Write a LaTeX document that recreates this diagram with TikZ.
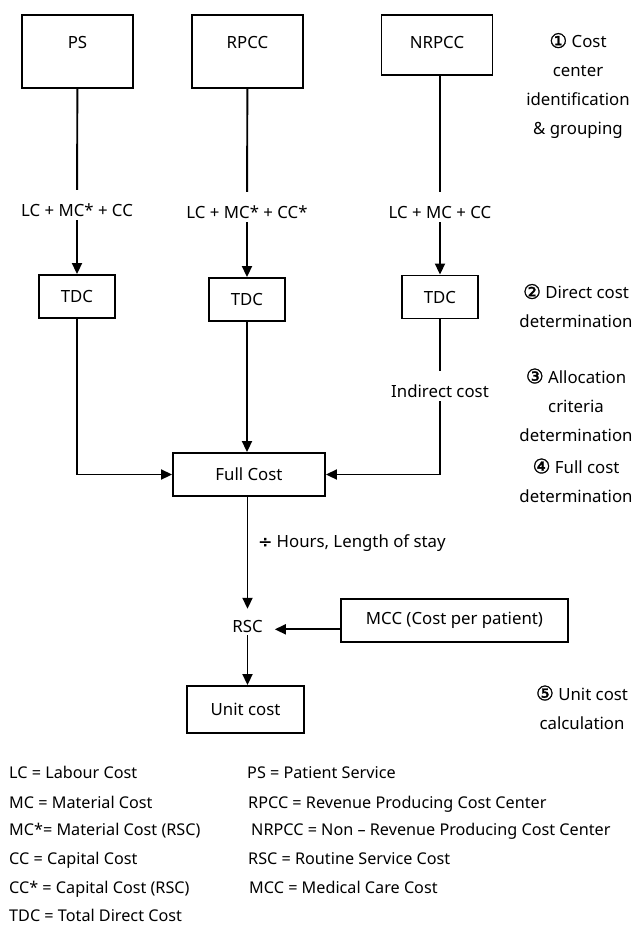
\documentclass[tikz,border=0pt]{standalone}
\usepackage{fontspec}
\setmainfont{Noto Sans}
\newfontfamily\symfont[FakeBold=1.5]{DejaVu Sans}
\newcommand\stepno[1]{{\symfont\fontsize{20}{29}\selectfont #1}}
\usetikzlibrary{arrows.meta}
\begin{document}
\begin{tikzpicture}[x=1pt,y=-1pt,
	font=\fontsize{16.8}{29}\selectfont,
	box/.style={draw=black,line width=1.9pt,inner sep=0pt},
	topbox/.style={box,minimum width=111pt,text height=33pt,text depth=40pt},
	tdcbox/.style={box,minimum width=76pt,minimum height=43pt},
	lbl/.style={anchor=base,inner sep=3pt,text height=23pt,text depth=1pt},
	note/.style={align=center,inner sep=0pt},
	key/.style={anchor=base west,inner sep=0pt,font=\fontsize{16.2}{18}\selectfont},
	ln/.style={line width=1.9pt},
	arr/.style={line width=1.9pt,-{Triangle[length=11pt,width=10pt]}}]
		\useasboundingbox (0,0) rectangle (635,926);
		
		% cost centers
		\node[topbox] (PS) at (77.5,51.5) {PS};
		\node[topbox] (RPCC) at (247.5,51.5) {RPCC};
		\node[topbox,text depth=27pt] (NRPCC) at (437,45) {NRPCC};
		
		\node[lbl] (L1) at (77,216) {LC + MC* + CC};
		\node[lbl] (L2) at (247,218) {LC + MC* + CC*};
		\node[lbl] (L3) at (440,218) {LC + MC + CC};
		
		\node[tdcbox] (T1) at (77,296.5) {TDC};
		\node[tdcbox] (T2) at (247,299.5) {TDC};
		\node[tdcbox] (T3) at (440,297) {TDC};
		
		\node[lbl] (IC) at (440,397) {Indirect cost};
		\node[box,minimum width=152pt,minimum height=43pt] (FC) at (249,474.5) {Full Cost};
		\node[anchor=west,inner sep=0pt] (DIV) at (258,543) {{\symfont ÷} Hours, Length of stay};
		\node[anchor=base,inner xsep=12pt,inner ysep=3pt,text height=20pt,text depth=0pt] (RSC) at (247.5,632) {RSC};
		\node[box,minimum width=227pt,minimum height=43pt] (MCC) at (454.5,620.5) {MCC (Cost per patient)};
		\node[box,minimum width=117pt,minimum height=47pt] (UC) at (245.5,709.5) {Unit cost};
		
		\draw[ln] (L3 |- NRPCC.south) -- (L3);
		\draw[ln] (PS) -- (L1);
		\draw[ln] (RPCC) -- (L2);
		\draw[arr] (L1) -- (T1);
		\draw[arr] (L2) -- (T2);
		\draw[arr] (L3) -- (T3);
		\draw[arr] (T1) |- (FC);
		\draw[arr] (T2) -- (T2 |- FC.north);
		\draw[ln] (T3) -- (IC);
		\draw[arr] (IC) |- (FC);
		\draw[arr] (RSC |- FC.south) -- (RSC);
		\draw[arr] (MCC.west |- RSC.mid east) -- (RSC.mid east);
		\draw[arr] (RSC) -- (RSC |- UC.north);
		
		% steps
		\node[note] (S1) at (578,86) {\stepno{①} Cost\\center\\identification\\\& grouping};
		\node[note] (S2) at (576,306) {\stepno{②} Direct cost\\determination};
		\node[note] (S3) at (576,405) {\stepno{③} Allocation\\criteria\\determination};
		\node[note] (S4) at (576,480.5) {\stepno{④} Full cost\\determination};
		\node[note] (S5) at (582,707.5) {\stepno{⑤} Unit cost\\calculation};
		
		% abbreviations
		\node[key] (K1) at (9,778) {LC = Labour Cost};
		\node[key] (K2) at (9,808) {MC = Material Cost};
		\node[key] (K3) at (9,835) {MC*= Material Cost (RSC)};
		\node[key] (K4) at (9,864) {CC = Capital Cost};
		\node[key] (K5) at (9,893) {CC* = Capital Cost (RSC)};
		\node[key] (K6) at (9,921) {TDC = Total Direct Cost};
		\node[key] (K7) at (247,778) {PS = Patient Service};
		\node[key] (K8) at (248,808) {RPCC = Revenue Producing Cost Center};
		\node[key] (K9) at (251,835) {NRPCC = Non – Revenue Producing Cost Center};
		\node[key] (K10) at (248,864) {RSC = Routine Service Cost};
		\node[key] (K11) at (249,893) {MCC = Medical Care Cost};
		
		\end{tikzpicture}
\end{document}
